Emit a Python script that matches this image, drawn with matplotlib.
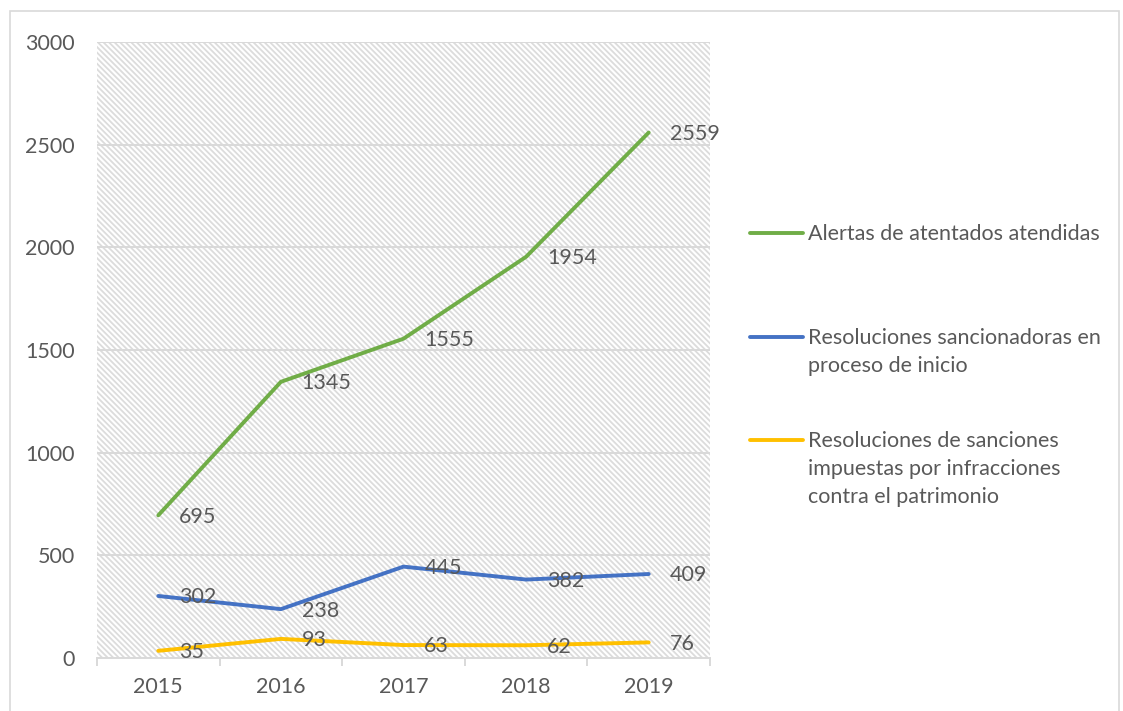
import matplotlib
matplotlib.use("Agg")
import matplotlib.pyplot as plt
import matplotlib.patches as patches
from matplotlib.lines import Line2D

years = ["2015", "2016", "2017", "2018", "2019"]
alertas = [695, 1345, 1555, 1954, 2559]
sancionadoras = [302, 238, 445, 382, 409]
sanciones = [35, 93, 63, 62, 76]

labels = [
    "Alertas de atentados atendidas",
    "Resoluciones sancionadoras en\nproceso de inicio",
    "Resoluciones de sanciones\nimpuestas por infracciones\ncontra el patrimonio",
]
colors = ["#70AD47", "#4472C4", "#FFC000"]
series = [alertas, sancionadoras, sanciones]

txt = "#595959"
grid = "#D9D9D9"
plt.rcParams["font.family"] = ["Lato", "DejaVu Sans"]
plt.rcParams["hatch.linewidth"] = 1.3
fs = 15.5

fig = plt.figure(figsize=(11.23, 7.11), dpi=100)
ax = fig.add_axes([97 / 1123, 53 / 711, 613 / 1123, 616 / 711])

# hatched plot background
ax.add_patch(patches.Rectangle((0, 0), 1, 1, transform=ax.transAxes,
                               facecolor="white", edgecolor="#DCDCDC",
                               hatch="\\" * 6, lw=0, zorder=0))

x = list(range(len(years)))
for vals, c in zip(series, colors):
    ax.plot(x, vals, color=c, lw=2.8, solid_capstyle="round", zorder=3)
    for xi, v in zip(x, vals):
        ax.annotate(str(v), (xi, v), xytext=(15, -1), textcoords="offset points",
                    ha="left", va="center", color=txt, fontsize=fs, zorder=4)

ax.set_xlim(-0.5, 4.5)
ax.set_ylim(0, 3000)
ax.set_yticks(range(0, 3001, 500))
ax.set_xticks(x)
ax.set_xticklabels(years)
ax.set_xticks([i - 0.5 for i in range(6)], minor=True)
ax.grid(axis="y", color=grid, lw=1.4, zorder=1)
ax.set_axisbelow(True)
for s in ["top", "right", "left"]:
    ax.spines[s].set_visible(False)
ax.spines["bottom"].set_color(grid)
ax.spines["bottom"].set_linewidth(1.4)
ax.spines["bottom"].set_zorder(2)
ax.tick_params(axis="y", length=0, pad=16, labelsize=fs, labelcolor=txt)
ax.tick_params(axis="x", which="major", length=0, pad=14, labelsize=fs, labelcolor=txt)
ax.tick_params(axis="x", which="minor", length=6, width=1.4, color=grid)

# legend drawn by hand so handles line up with the first text line
leg_y = [233, 337, 440]
for lab, c, yy in zip(labels, colors, leg_y):
    fy = 1 - yy / 711
    fig.add_artist(Line2D([750 / 1123, 803 / 1123], [fy, fy], color=c, lw=2.8,
                          solid_capstyle="round", transform=fig.transFigure))
    fig.text(808 / 1123, fy + 9 / 711, lab, ha="left", va="top", color=txt,
             fontsize=fs, linespacing=1.5)

# chart border
fig.add_artist(patches.Rectangle((10 / 1123, -0.01), 1109 / 1123, 1 - 11 / 711 + 0.01,
                                 transform=fig.transFigure, fill=False,
                                 edgecolor=grid, lw=1.2))

fig.savefig("out.png", dpi=100)
